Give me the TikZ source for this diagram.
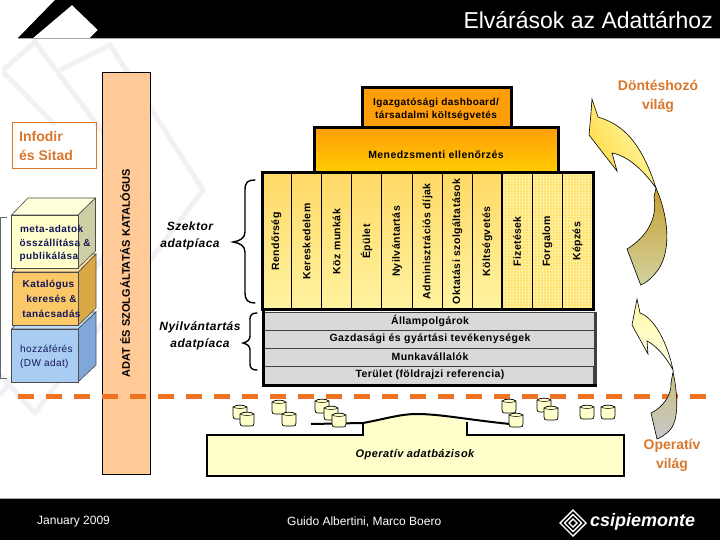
\documentclass[tikz,border=0pt]{standalone}
\usepackage{fontspec}
\setmainfont{Liberation Sans}
\newfontfamily\lsp[LetterSpace=4]{Liberation Sans}
\usetikzlibrary{shadings,patterns.meta}
\definecolor{orangetxt}{HTML}{D9782D}
\definecolor{navytxt}{HTML}{14145A}
\definecolor{wm}{HTML}{F1F1F5}
\definecolor{dashor}{HTML}{EE7422}
\definecolor{colTop}{HTML}{FFD966}
\definecolor{colBot}{HTML}{FFF3A0}
\definecolor{gridBg}{HTML}{FFE26A}
\definecolor{rowFill}{HTML}{D9D9D9}
\definecolor{rowedge}{HTML}{404040}
\definecolor{cylFill}{HTML}{FFFFCC}
\definecolor{catFill}{HTML}{FFC998}
\definecolor{topBlue}{HTML}{BFDDFA}
\definecolor{sideBlue}{HTML}{7FA8D8}
\definecolor{frontBlue}{HTML}{A9CDF2}
\definecolor{topOr}{HTML}{FFE29B}
\definecolor{sideOr}{HTML}{D9A845}
\definecolor{frontOr}{HTML}{FBC868}
\definecolor{topCr}{HTML}{FFFFDC}
\definecolor{sideCr}{HTML}{CFCFA6}
\definecolor{frontCr}{HTML}{FFFFCC}
\definecolor{pyrOr}{HTML}{FF9D0A}
\definecolor{pyrYe}{HTML}{FFCC00}
\definecolor{gridLn}{HTML}{FFF0A8}
\definecolor{arA}{HTML}{FFD740}
\definecolor{arB}{HTML}{FFFFB4}
\definecolor{arC}{HTML}{C8A030}
\definecolor{arD}{HTML}{D2D2A0}
\definecolor{arE}{HTML}{FFF9A0}
\definecolor{arF}{HTML}{FFFFEC}
\definecolor{arG}{HTML}{C8C080}
\definecolor{arH}{HTML}{C8C8C8}
\tikzset{x=1pt,y=-1pt,
  thick3/.style={draw=black,line width=3pt},
  colcell/.style={draw=black,line width=0.8pt,top color=colTop,bottom color=colBot},
  gridcell/.style={draw=black,line width=0.8pt,fill=gridBg},
  rowcell/.style={draw=rowedge,line width=1pt,fill=rowFill},
  vlabel/.style={rotate=90,font=\lsp\fontsize{10.5}{12}\selectfont\bfseries,text=black,inner sep=0pt},
  rowlabel/.style={font=\lsp\fontsize{10.5}{12}\selectfont\bfseries,text=black,inner sep=0pt},
  world/.style={font=\fontsize{14}{19}\selectfont\bfseries,text=orangetxt,align=center,inner sep=0pt},
  market/.style={font=\lsp\fontsize{12}{16.5}\selectfont\bfseries\itshape,align=center,inner sep=0pt},
  stack/.style={font=\lsp\fontsize{10}{15}\selectfont\bfseries,text=navytxt,inner sep=0pt},
  brace/.style={draw=black,line width=1.4pt,line cap=round},
  watermark/.style={draw=wm,line width=5pt,line join=miter},
  bigarrow/.style={draw=black,line width=0.6pt},
  boxedge/.style={draw=gray!60!black,line width=0.6pt},
}
\newcommand{\dbcyl}[2]{%
  \draw[fill=cylFill,draw=black,line width=0.7pt]
    (#1,#2+2) .. controls (#1+3,#2-0.5) and (#1+11,#2-0.5) .. (#1+14,#2+2)
    -- (#1+14,#2+11) .. controls (#1+14,#2+13.5) and (#1+13,#2+14) .. (#1+11,#2+14)
    -- (#1+3,#2+14) .. controls (#1+1,#2+14) and (#1,#2+13.5) .. (#1,#2+11) -- cycle;
  \draw[draw=black,line width=0.5pt] (#1,#2+2) .. controls (#1+3,#2+4) and (#1+11,#2+4) .. (#1+14,#2+2);}
\begin{document}
\begin{tikzpicture}
\useasboundingbox (0,0) rectangle (720,540);
\fill[white] (0,0) rectangle (720,540);
% watermark chevrons
\draw[watermark] (60,70) -- (110,45) -- (203,190) -- (35,413) -- (0,375);
\draw[watermark] (3,70) -- (35,42) -- (150,195) -- (0,395);
\draw[watermark] (3,72) -- (55,125);
% header
\fill[black] (18,38) -- (55,0) -- (720,0) -- (720,38) -- (90,38) -- (98,30) -- (72,5) -- (33,38) -- cycle;
\draw[gray!70,line width=0.8pt] (18,38.6) -- (720,38.6);
\node[font=\fontsize{23}{26}\selectfont,text=white,anchor=east,inner sep=0pt] (title) at (713,20) {Elvárások az Adattárhoz};
% footer
\fill[black] (0,499) rectangle (720,540);
\draw[gray!70,line width=0.8pt] (0,498.8) -- (720,498.8);
\node[font=\fontsize{12}{14}\selectfont,text=white,anchor=west,inner sep=0pt] (date) at (37,522) {January 2009};
\node[font=\fontsize{12}{14}\selectfont,text=white,anchor=west,inner sep=0pt] (authors) at (287,522) {Guido Albertini, Marco Boero};
\node[font=\fontsize{18}{20}\selectfont\bfseries\itshape,text=white,anchor=west,inner sep=0pt] (logo) at (590,522) {csipiemonte};
\foreach \r in {13,8.5,4}{\draw[white,line width=1.4pt] (573+\r,523) -- (573,523-\r) -- (573-\r,523) -- (573,523+\r) -- cycle;}
% left column
\draw[gray!80!black,line width=0.8pt] (7,217) -- (0.5,217) -- (0.5,378) -- (7,378);
\node[draw=orangetxt,line width=0.8pt,minimum width=84pt,minimum height=46pt,inner sep=0pt] (infobox) at (54.5,145.5) {};
\node[font=\fontsize{14}{19}\selectfont\bfseries,text=orangetxt,anchor=west,align=left,inner sep=0pt] (info) at (19,146) {Infodir\\és Sitad};
% catalog bar
\node[draw=black,line width=0.9pt,fill=catFill,minimum width=48pt,minimum height=402pt,inner sep=0pt] (catalog) at (126.5,273) {};
\node[rotate=90,font=\fontsize{11}{13}\selectfont\bfseries,inner sep=0pt] (cattxt) at (125,273) {ADAT ÉS SZOLGÁLTATÁS KATALÓGUS};
% stacked boxes
\draw[boxedge,fill=topBlue] (11.5,329) -- (29,312) -- (96,312) -- (78,329) -- cycle;
\draw[boxedge,fill=sideBlue] (78,329) -- (96,312) -- (96,365) -- (78,382) -- cycle;
\node[boxedge,fill=frontBlue,minimum width=66.5pt,minimum height=53pt,inner sep=0pt] (accessbox) at (44.75,355.5) {};
\draw[boxedge,fill=topOr] (12.5,272) -- (30,254) -- (96,254) -- (78.5,272) -- cycle;
\draw[boxedge,fill=sideOr] (78.5,272) -- (96,254) -- (96,308) -- (78.5,325) -- cycle;
\node[boxedge,fill=frontOr,minimum width=66pt,minimum height=53pt,inner sep=0pt] (catbox) at (45.5,298.5) {};
\draw[boxedge,fill=topCr] (11.5,215) -- (28,198) -- (95.5,198) -- (78,215) -- cycle;
\draw[boxedge,fill=sideCr] (78,215) -- (95.5,198) -- (95.5,251) -- (78,268) -- cycle;
\node[boxedge,fill=frontCr,minimum width=66.5pt,minimum height=53pt,inner sep=0pt] (metabox) at (44.75,241.5) {};
\node[stack,anchor=west] (m1) at (20,229) {meta-adatok};
\node[stack,anchor=west] (m2) at (19.5,243) {összállítása \&};
\node[stack,anchor=west] (m3) at (19.5,257) {publikálása};
\node[stack] (c1) at (48.5,285) {Katalógus};
\node[stack] (c2) at (51.5,299) {keresés \&};
\node[stack] (c3) at (51.5,314) {tanácsadás};
\node[stack,font=\lsp\fontsize{10}{15}\selectfont,anchor=west] (a1) at (20,349) {hozzáférés};
\node[stack,font=\lsp\fontsize{10}{15}\selectfont,anchor=west] (a2) at (20,364) {(DW adat)};
% labels and braces
\node[market] (szektor) at (190,236) {Szektor\\adatpíaca};
\node[market] (nyilv) at (200,336) {Nyilvántartás\\adatpíaca};
\draw[brace] (255,180) .. controls (248,180) and (245,182) .. (245,190) -- (245,232) .. controls (245,238) and (240,241) .. (233,242) .. controls (240,243) and (245,246) .. (245,252) -- (245,293) .. controls (245,300) and (248,303) .. (255,303);
\draw[brace] (257,313) .. controls (252,313) and (250,315) .. (250,319) -- (250,336) .. controls (250,340) and (247,342) .. (243,343) .. controls (247,344) and (250,346) .. (250,350) -- (250,364) .. controls (250,368) and (252,370) .. (257,370);
% pyramid
\node[thick3,fill=pyrOr,minimum width=149pt,minimum height=40pt,inner sep=0pt] (dash) at (436.5,108) {};
\node[rowlabel,font=\lsp\fontsize{10}{13}\selectfont\bfseries,align=center] (dashtxt) at (436,109.5) {Igazgatósági dashboard/\\társadalmi költségvetés};
\node[thick3,top color=pyrOr,bottom color=pyrYe,minimum width=244pt,minimum height=45pt,inner sep=0pt] (mgmt) at (436,150) {};
\node[rowlabel] (mgmttxt) at (436,154.5) {Menedzsmenti ellenőrzés};
% columns
\foreach \a/\b in {262/291.7,291.7/321.7,321.7/351.7,351.7/381.7,381.7/412.7,412.7/442.7,442.7/472.7,472.7/501.7}{
  \path[colcell] (\a,173) rectangle (\b,308);
}
\foreach \a/\b in {501.7/532.7,532.7/562.7,562.7/592}{
  \path[gridcell] (\a,173) rectangle (\b,308);
  \fill[pattern={Lines[angle=0,distance=3pt,line width=0.9pt]},pattern color=gridLn] (\a,173) rectangle (\b,308);
  \fill[pattern={Lines[angle=90,distance=3pt,line width=0.9pt]},pattern color=gridLn] (\a,173) rectangle (\b,308);
  \draw[black,line width=0.8pt] (\a,173) rectangle (\b,308);
}
\draw[black,line width=2pt] (501.7,173) -- (501.7,308);
\draw[black,line width=3pt] (262,173) rectangle (593,309);
\foreach \x/\t/\nm in {276.5/Rendőrség/v1,306.5/Kereskedelem/v2,336.5/Köz munkák/v3,366.5/Épület/v4,397/Nyilvántartás/v5,427.5/Adminisztrációs díjak/v6,457.5/Oktatási szolgáltatások/v7,487.5/Költségvetés/v8,517/Fizetések/v9,547.5/Forgalom/v10,577.5/Képzés/v11}{
  \node[vlabel] (\nm) at (\x,241.5) {\t};
}
% rows
\foreach \y/\h/\t/\nm in {312/18/Állampolgárok/r1,330/18/Gazdasági és gyártási tevékenységek/r2,348/18/Munkavállalók/r3,366/18/Terület (földrajzi referencia)/r4}{
  \path[rowcell] (264,\y) rectangle (595,\y+\h);
  \node[rowlabel] (\nm) at (430,\y+9) {\t};
}
\draw[rowedge,line width=3pt] (595,312) -- (595,366);
\draw[rowedge,line width=4pt] (595,366) -- (595,384);
\draw[black,line width=3pt] (263,309) -- (263,385.5) -- (597,385.5);
% dashed separator
\foreach \k in {0,...,24}{
  \fill[dashor] (18+28*\k,394) rectangle (34+28*\k,398.5);
}
% operative box
\path[fill=cylFill] (207,435) -- (363,435) -- (363,424) .. controls (385,419) and (400,414) .. (417,414) .. controls (435,414) and (450,418) .. (467,421) -- (467,435) -- (624,435) -- (624,476) -- (207,476) -- cycle;
\draw[black,line width=1.5pt] (363,424) -- (363,435) -- (207,435) -- (207,476) -- (624,476) -- (624,435) -- (467,435) -- (467,422);
\draw[black,line width=2pt] (311,424) -- (363,423) .. controls (385,419) and (400,414) .. (417,414) .. controls (440,414) and (470,420) .. (510,424);
\node[font=\lsp\fontsize{11}{13}\selectfont\bfseries\itshape,inner sep=0pt] (opdb) at (415,455) {Operatív adatbázisok};
% cylinders
\foreach \x/\y in {233/405,240/412,272/400,282/412,315/399,324/406,332/413,502/399,509/413,537/398,544/406,580/405,601/405}{\dbcyl{\x}{\y}}
% world labels
\node[world] (dontes) at (658,96) {Döntéshozó\\világ};
\node[world] (oper) at (672,455) {Operatív\\világ};
% flow arrows
\path[bigarrow,left color=arA,right color=arB,shading angle=120]
 (592,99) -- (598,117) .. controls (625,125) and (642,145) .. (656,188)
 .. controls (643,170) and (628,156) .. (612,153) -- (617,171) -- (589,135) -- (591,113) -- cycle;
\path[bigarrow,top color=arC,bottom color=arD]
 (656,188) .. controls (668,215) and (672,250) .. (658,270) .. controls (652,278) and (646,283) .. (640.7,285)
 -- (627,249) .. controls (645,238) and (658,220) .. (654,197) -- cycle;
\path[bigarrow,top color=arE,bottom color=arF]
 (637,299) -- (640,313) .. controls (655,318) and (668,345) .. (673,370)
 .. controls (665,355) and (655,345) .. (647,341) -- (648,354) -- (632,325) -- cycle;
\path[bigarrow,top color=arG,bottom color=arH]
 (673,372) .. controls (678,395) and (679,420) .. (670,430) .. controls (665,435) and (660,438) .. (657,439)
 -- (651,413) .. controls (662,408) and (672,395) .. (671,383) -- cycle;
\end{tikzpicture}
\end{document}
